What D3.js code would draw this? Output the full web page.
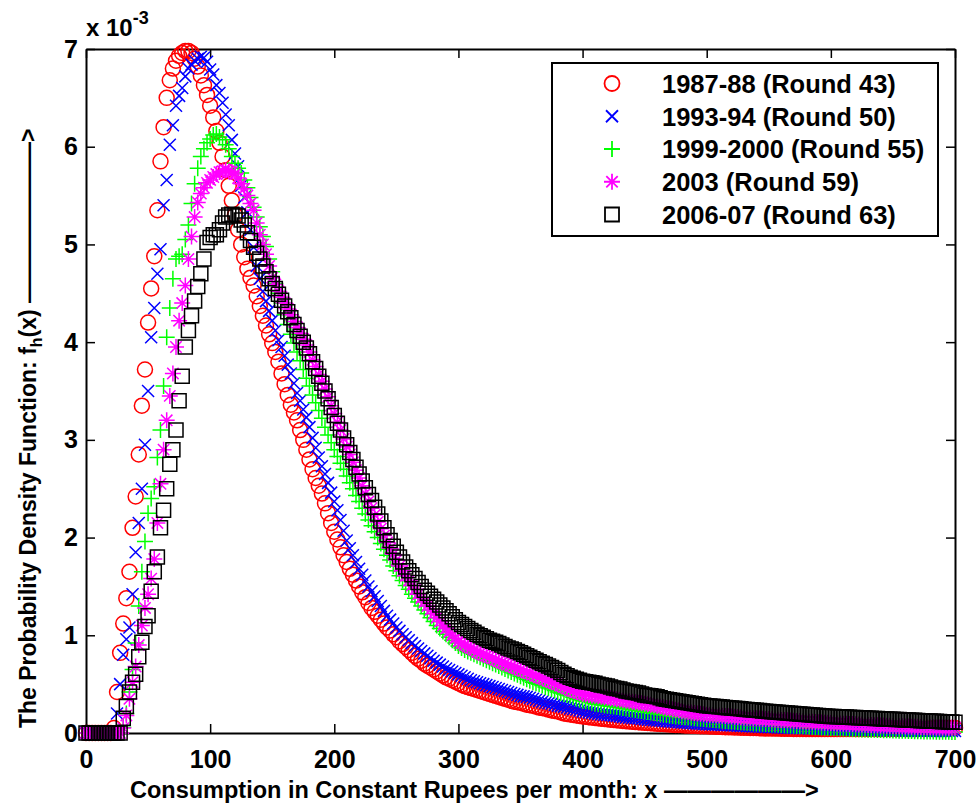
<!DOCTYPE html>
<html><head><meta charset="utf-8">
<script src="https://cdn.jsdelivr.net/npm/d3@7"></script>
<style>
body{margin:0;background:#fff}
svg{display:block}
text{font-family:"Liberation Sans",Arial,Helvetica,sans-serif;font-weight:bold;fill:#000}
</style></head><body>
<svg id="c" width="979" height="807"></svg>
<script>
// ---- data (density values in units of 1e-3), x in constant rupees ----
const xValues = [
0,2.5,5,7.5,10,12.5,15,17.5,20,22.5,25,27.5,30,32.5,35,37.5,40,42.5,45,47.5,
50,52.5,55,57.5,60,62.5,65,67.5,70,72.5,75,77.5,80,82.5,85,87.5,90,92.5,95,97.5,
100,102.5,105,107.5,110,112.5,115,117.5,120,122.5,125,127.5,130,132.5,135,137.5,140,142.5,145,147.5,
150,152.5,155,157.5,160,162.5,165,167.5,170,172.5,175,177.5,180,182.5,185,187.5,190,192.5,195,197.5,
200,202.5,205,207.5,210,212.5,215,217.5,220,222.5,225,227.5,230,232.5,235,237.5,240,242.5,245,247.5,
250,252.5,255,257.5,260,262.5,265,267.5,270,272.5,275,277.5,280,282.5,285,287.5,290,292.5,295,297.5,
300,302.5,305,307.5,310,312.5,315,317.5,320,322.5,325,327.5,330,332.5,335,337.5,340,342.5,345,347.5,
350,352.5,355,357.5,360,362.5,365,367.5,370,372.5,375,377.5,380,382.5,385,387.5,390,392.5,395,397.5,
400,402.5,405,407.5,410,412.5,415,417.5,420,422.5,425,427.5,430,432.5,435,437.5,440,442.5,445,447.5,
450,452.5,455,457.5,460,462.5,465,467.5,470,472.5,475,477.5,480,482.5,485,487.5,490,492.5,495,497.5,
500,502.5,505,507.5,510,512.5,515,517.5,520,522.5,525,527.5,530,532.5,535,537.5,540,542.5,545,547.5,
550,552.5,555,557.5,560,562.5,565,567.5,570,572.5,575,577.5,580,582.5,585,587.5,590,592.5,595,597.5,
600,602.5,605,607.5,610,612.5,615,617.5,620,622.5,625,627.5,630,632.5,635,637.5,640,642.5,645,647.5,
650,652.5,655,657.5,660,662.5,665,667.5,670,672.5,675,677.5,680,682.5,685,687.5,690,692.5,695,697.5,
700];

const round43 = [
0,0,0,0,0,0,0,0,0,0.05,0.42,0.82,1.12,1.38,1.65,2.1,2.42,2.85,3.35,3.72,4.2,4.55,4.88,5.35,5.85,6.2,6.5,6.68,6.8,6.88,6.93,6.96,6.98,6.98,6.96,6.9,6.82,6.73,6.63,6.53,6.42,6.3,6.16,6.04,5.9,5.76,5.6,5.45,5.3,5.15,5.0,4.87,4.75,4.66,4.58,4.47,4.37,4.27,4.17,4.08,3.99,3.9,3.8,3.68,3.57,3.46,3.36,3.28,3.2,3.1,3.0,2.9,2.8,2.7,2.61,2.53,2.45,2.35,2.25,2.15,2.06,
1.98,1.9,1.82,1.75,1.68,1.62,1.56,1.5,1.44,1.39,1.33,1.28,1.24,1.2,1.16,1.12,1.08,1.05,1.01,0.98,0.94,0.91,0.88,0.85,0.82,0.79,0.76,0.74,0.71,0.69,0.67,0.65,0.63,0.61,0.59,0.57,0.555,0.54,0.525,0.51,
0.495,0.48,0.47,0.46,0.45,0.44,0.43,0.42,0.41,0.4,0.39,0.38,0.37,0.36,0.35,0.34,0.33,0.32,0.315,0.31,0.3,0.29,0.285,0.28,0.27,0.26,0.255,0.25,0.24,0.23,0.225,0.22,0.21,0.2,0.195,0.19,0.185,0.18,0.175,0.17,
0.166,0.162,0.158,0.154,0.15,0.146,0.143,0.14,0.136,0.133,0.13,0.127,0.124,0.121,0.118,0.115,0.112,0.11,0.107,0.105,0.102,0.1,0.097,0.095,0.093,0.091,0.089,0.087,0.085,0.083,0.081,0.079,0.078,0.076,0.074,0.073,0.072,0.07,0.069,0.068,
0.067,0.066,0.064,0.063,0.061,0.06,0.059,0.058,0.057,0.056,0.055,0.054,0.053,0.052,0.051,0.05,0.049,0.048,0.047,0.046,0.046,0.045,0.045,0.044,0.044,0.043,0.043,0.042,0.042,0.041,0.041,0.04,0.04,0.04,0.04,0.04,0.04,0.04,0.04,0.04,
0.04,0.04,0.04,0.04,0.04,0.04,0.04,0.04,0.04,0.04,0.04,0.04,0.04,0.04,0.04,0.04,0.04,0.04,0.04,0.04,0.04,0.04,0.04,0.04,0.04,0.04,0.04,0.04,0.041,0.042,0.043,0.044,0.045,0.046,0.047,0.048,0.049,0.05,0.051,0.052];

const round50 = [
0,0,0,0,0,0,0,0,0,0.02,0.2,0.5,0.8,0.96,1.08,1.42,1.85,2.15,2.5,2.95,3.5,4.05,4.35,4.7,4.95,5.4,5.66,6.02,6.22,6.42,6.52,6.6,6.72,6.8,6.84,6.88,6.9,6.92,6.91,6.87,6.79,6.74,6.63,6.55,6.45,6.33,6.22,6.07,5.93,5.8,5.6,5.48,5.33,5.15,4.97,4.78,4.65,4.52,4.42,4.32,4.22,4.12,4.02,3.95,3.86,3.77,3.68,3.58,3.48,3.4,3.31,3.23,3.13,3.02,2.92,2.82,2.73,2.65,2.56,2.46,2.37,
2.28,2.18,2.07,1.97,1.89,1.82,1.75,1.68,1.62,1.56,1.5,1.45,1.4,1.35,1.3,1.25,1.2,1.16,1.12,1.08,1.045,1.01,0.98,0.95,0.92,0.89,0.865,0.84,0.815,0.79,0.765,0.74,0.72,0.7,0.68,0.66,0.645,0.63,0.615,0.6,
0.585,0.57,0.555,0.54,0.53,0.52,0.51,0.5,0.49,0.48,0.47,0.46,0.45,0.44,0.43,0.42,0.41,0.4,0.39,0.38,0.375,0.37,0.36,0.35,0.34,0.33,0.32,0.31,0.305,0.3,0.29,0.28,0.275,0.27,0.26,0.25,0.245,0.24,0.23,0.22,
0.215,0.21,0.205,0.2,0.195,0.19,0.187,0.184,0.181,0.178,0.175,0.17,0.165,0.16,0.157,0.154,0.151,0.148,0.144,0.14,0.137,0.134,0.131,0.128,0.125,0.122,0.12,0.118,0.115,0.112,0.11,0.108,0.105,0.102,0.1,0.098,0.096,0.094,0.092,0.09,
0.088,0.087,0.085,0.084,0.082,0.081,0.079,0.078,0.076,0.075,0.073,0.072,0.07,0.069,0.067,0.066,0.064,0.063,0.061,0.06,0.059,0.058,0.057,0.056,0.055,0.054,0.053,0.052,0.051,0.05,0.049,0.048,0.047,0.046,0.045,0.044,0.043,0.042,0.041,0.04,
0.039,0.038,0.037,0.036,0.035,0.034,0.033,0.032,0.0315,0.031,0.0305,0.03,0.0295,0.029,0.0285,0.028,0.0275,0.027,0.0265,0.026,0.0255,0.025,0.0245,0.024,0.0235,0.023,0.0225,0.022,0.0215,0.021,0.021,0.0205,0.02,0.02,0.02,0.02,0.02,0.02,0.02,0.02];

const round55 = [
0,0,0,0,0,0,0,0,0,0,0,0,0.06,0.2,0.42,0.65,0.92,1.3,1.65,1.96,2.25,2.4,2.52,2.82,3.1,3.55,4.05,4.35,4.65,4.85,4.88,4.9,5.05,5.2,5.42,5.62,5.78,5.9,5.98,6.04,6.08,6.12,6.13,6.1,6.07,6.02,5.98,5.9,5.83,5.78,5.73,5.66,5.58,5.48,5.38,5.28,5.18,5.08,4.98,4.85,4.72,4.6,4.5,4.4,4.28,4.18,4.08,3.99,3.9,3.81,3.72,3.63,3.55,3.46,3.38,3.3,3.22,3.13,3.05,2.97,2.9,
2.83,2.76,2.7,2.63,2.56,2.5,2.43,2.37,2.3,2.24,2.18,2.12,2.06,2.0,1.94,1.88,1.82,1.77,1.71,1.66,1.61,1.56,1.51,1.47,1.42,1.38,1.34,1.3,1.26,1.22,1.18,1.14,1.1,1.07,1.04,1.01,0.98,0.95,0.92,0.89,
0.87,0.85,0.835,0.82,0.805,0.79,0.775,0.76,0.745,0.73,0.715,0.7,0.685,0.67,0.655,0.64,0.625,0.61,0.595,0.58,0.565,0.55,0.535,0.52,0.51,0.5,0.485,0.47,0.46,0.45,0.435,0.42,0.41,0.4,0.39,0.38,0.365,0.35,0.34,0.33,
0.325,0.32,0.31,0.3,0.295,0.29,0.285,0.28,0.275,0.27,0.265,0.26,0.255,0.25,0.245,0.24,0.235,0.23,0.225,0.22,0.215,0.21,0.205,0.2,0.195,0.19,0.185,0.18,0.175,0.17,0.168,0.165,0.162,0.158,0.155,0.151,0.148,0.145,0.142,0.14,
0.137,0.134,0.131,0.128,0.125,0.122,0.12,0.117,0.115,0.112,0.11,0.107,0.105,0.102,0.1,0.098,0.096,0.094,0.092,0.09,0.088,0.086,0.084,0.082,0.08,0.078,0.076,0.074,0.072,0.07,0.068,0.066,0.064,0.062,0.06,0.058,0.056,0.055,0.053,0.051,
0.05,0.048,0.047,0.045,0.044,0.042,0.041,0.039,0.038,0.036,0.035,0.034,0.033,0.032,0.031,0.03,0.029,0.028,0.027,0.026,0.025,0.024,0.023,0.022,0.021,0.02,0.019,0.018,0.017,0.016,0.0155,0.015,0.0145,0.014,0.0135,0.013,0.0125,0.012,0.0115,0.011];

const round59 = [
0,0,0,0,0,0,0,0,0,0,0,0,0.05,0.18,0.35,0.52,0.68,0.9,1.1,1.28,1.42,1.58,1.78,2.15,2.55,2.9,3.2,3.45,3.68,3.95,4.22,4.4,4.58,4.85,5.08,5.28,5.43,5.52,5.58,5.63,5.66,5.69,5.72,5.74,5.75,5.76,5.75,5.74,5.72,5.68,5.62,5.57,5.5,5.42,5.35,5.22,5.1,5.0,4.9,4.78,4.66,4.59,4.52,4.46,4.4,4.34,4.28,4.21,4.15,4.09,4.03,3.97,3.9,3.82,3.75,3.67,3.6,3.52,3.44,3.35,3.27,
3.18,3.1,3.01,2.93,2.85,2.77,2.69,2.61,2.53,2.45,2.37,2.3,2.23,2.16,2.09,2.02,1.95,1.89,1.83,1.77,1.71,1.66,1.61,1.56,1.51,1.47,1.42,1.38,1.34,1.3,1.26,1.22,1.18,1.14,1.1,1.07,1.03,1.0,0.97,0.94,
0.92,0.9,0.885,0.87,0.85,0.83,0.815,0.8,0.79,0.78,0.765,0.75,0.735,0.72,0.71,0.7,0.685,0.67,0.66,0.65,0.635,0.62,0.61,0.6,0.585,0.57,0.56,0.55,0.535,0.52,0.51,0.5,0.485,0.47,0.455,0.44,0.43,0.42,0.41,0.4,
0.395,0.39,0.385,0.38,0.375,0.37,0.365,0.36,0.355,0.35,0.345,0.34,0.335,0.33,0.325,0.32,0.315,0.31,0.305,0.3,0.295,0.29,0.283,0.276,0.27,0.263,0.256,0.25,0.244,0.238,0.232,0.226,0.22,0.215,0.21,0.205,0.2,0.196,0.192,0.188,
0.186,0.184,0.181,0.179,0.176,0.174,0.171,0.169,0.166,0.164,0.161,0.159,0.157,0.155,0.152,0.15,0.148,0.146,0.144,0.142,0.14,0.138,0.136,0.134,0.132,0.13,0.128,0.126,0.124,0.122,0.12,0.118,0.116,0.114,0.112,0.11,0.108,0.106,0.104,0.102,
0.1,0.098,0.097,0.095,0.094,0.092,0.091,0.089,0.088,0.086,0.085,0.083,0.082,0.08,0.079,0.077,0.076,0.074,0.073,0.071,0.07,0.069,0.068,0.067,0.066,0.065,0.064,0.063,0.062,0.061,0.06,0.059,0.058,0.057,0.057,0.056,0.056,0.055,0.055,0.054];

const round63 = [
0,0,0,0,0,0,0,0,0,0,0,0,0.15,0.27,0.42,0.52,0.6,0.78,0.93,1.09,1.2,1.45,1.65,1.8,2.1,2.28,2.5,2.75,2.9,3.1,3.4,3.65,3.95,4.12,4.27,4.42,4.57,4.7,4.85,5.02,5.07,5.1,5.1,5.15,5.22,5.28,5.3,5.31,5.3,5.29,5.25,5.2,5.12,5.04,4.97,4.91,4.85,4.78,4.72,4.65,4.6,4.55,4.49,4.43,4.37,4.31,4.25,4.18,4.12,4.06,4.0,3.94,3.88,3.8,3.73,3.65,3.58,3.5,3.42,3.33,3.25,
3.17,3.1,3.02,2.95,2.87,2.8,2.72,2.65,2.58,2.51,2.44,2.38,2.31,2.24,2.17,2.1,2.03,1.97,1.91,1.85,1.8,1.75,1.7,1.66,1.62,1.58,1.54,1.5,1.46,1.43,1.4,1.37,1.34,1.31,1.28,1.25,1.22,1.19,1.16,1.13,
1.11,1.09,1.07,1.05,1.03,1.01,0.995,0.98,0.965,0.95,0.94,0.93,0.915,0.9,0.885,0.87,0.86,0.85,0.835,0.82,0.805,0.79,0.775,0.76,0.745,0.73,0.715,0.7,0.685,0.67,0.655,0.64,0.62,0.6,0.585,0.57,0.56,0.55,0.54,0.53,
0.525,0.52,0.515,0.51,0.5,0.49,0.485,0.48,0.47,0.46,0.455,0.45,0.44,0.43,0.425,0.42,0.415,0.41,0.4,0.39,0.385,0.38,0.375,0.37,0.36,0.35,0.345,0.34,0.335,0.33,0.325,0.32,0.315,0.31,0.305,0.3,0.295,0.29,0.285,0.28,
0.277,0.274,0.271,0.268,0.265,0.262,0.259,0.256,0.253,0.25,0.247,0.244,0.241,0.238,0.235,0.232,0.229,0.226,0.223,0.22,0.2175,0.215,0.2125,0.21,0.2075,0.205,0.2025,0.2,0.1975,0.195,0.1925,0.19,0.1875,0.185,0.1825,0.18,0.1775,0.175,0.1725,0.17,
0.1685,0.167,0.1655,0.164,0.1625,0.161,0.1595,0.158,0.1565,0.155,0.1535,0.152,0.1505,0.149,0.1475,0.146,0.1445,0.143,0.1415,0.14,0.1385,0.137,0.1355,0.134,0.1325,0.131,0.1295,0.128,0.1265,0.125,0.1235,0.122,0.1205,0.119,0.1175,0.116,0.1145,0.113,0.1115,0.11];

const seriesNames = ["1987-88 (Round 43)","1993-94 (Round 50)","1999-2000 (Round 55)","2003 (Round 59)","2006-07 (Round 63)"];
const seriesValues = [round43, round50, round55, round59, round63];
const seriesColors = ["#ff0000","#0000ff","#00ff00","#ff00ff","#000000"];
const seriesMarkers = ["circle","x","plus","asterisk","square"];
const xTicks = [0,100,200,300,400,500,600,700];
const yTicks = [0,1,2,3,4,5,6,7];

// ---- drawing ----
const svg = d3.select("#c");
const x = d3.scaleLinear().domain([0,700]).range([86,955]);
const y = d3.scaleLinear().domain([0,7]).range([733,49]);
const FONT = '"Liberation Sans",Arial,Helvetica,sans-serif';

function styleAxis(g){
  g.select(".domain").attr("stroke","#000").attr("stroke-width",2);
  g.selectAll(".tick line").attr("stroke","#000").attr("stroke-width",1.5);
  g.selectAll(".tick text").attr("font-family",FONT).attr("font-weight","bold").attr("font-size",25).attr("fill","#000");
}
svg.append("g").attr("transform","translate(0,733)")
  .call(d3.axisBottom(x).tickValues(xTicks).tickFormat(d3.format("d")).tickSizeInner(-9).tickSizeOuter(0).tickPadding(17)).call(styleAxis);
svg.append("g").attr("transform","translate(0,49)")
  .call(d3.axisTop(x).tickValues(xTicks).tickSizeInner(-9).tickSizeOuter(0).tickFormat("")).call(styleAxis);
svg.append("g").attr("transform","translate(86,0)")
  .call(d3.axisLeft(y).tickValues(yTicks).tickFormat(d3.format("d")).tickSizeInner(-9).tickSizeOuter(0).tickPadding(8)).call(styleAxis);
svg.append("g").attr("transform","translate(955,0)")
  .call(d3.axisRight(y).tickValues(yTicks).tickSizeInner(-9).tickSizeOuter(0).tickFormat("")).call(styleAxis);

function markerPath(type){
  switch(type){
    case "circle": { const r=7.5; return `M${r},0A${r},${r} 0 1,1 ${-r},0A${r},${r} 0 1,1 ${r},0Z`; }
    case "x": { const s=6; return `M${-s},${-s}L${s},${s}M${-s},${s}L${s},${-s}`; }
    case "plus": { const s=8; return `M${-s},0L${s},0M0,${-s}L0,${s}`; }
    case "asterisk": { const s=8, d=5.7; return `M${-s},0L${s},0M0,${-s}L0,${s}M${-d},${-d}L${d},${d}M${-d},${d}L${d},${-d}`; }
    case "square": { const s=7; return `M${-s},${-s}H${s}V${s}H${-s}Z`; }
  }
}

const marks = svg.append("g");
seriesValues.forEach((vals,i)=>{
  const pts = d3.zip(xValues, vals);
  marks.append("g").selectAll("path").data(pts).join("path")
    .attr("d", markerPath(seriesMarkers[i]))
    .attr("transform", d=>`translate(${x(d[0])},${y(d[1])})`)
    .attr("fill","none").attr("stroke",seriesColors[i]).attr("stroke-width",1.5);
});

// exponent label
const ex = svg.append("text").attr("x",86).attr("y",36).attr("font-size",24);
ex.append("tspan").text("x 10");
ex.append("tspan").attr("font-size",18).attr("dy",-12).text("-3");

// axis labels
svg.append("text").attr("x",130).attr("y",798).attr("font-size",23.5)
  .text("Consumption in Constant Rupees per month: x \u2014\u2014\u2014\u2014\u2014\u2014>");
const yl = svg.append("text").attr("transform","translate(36,728) rotate(-90)").attr("font-size",23);
yl.append("tspan").text("The Probability Density Function: f");
yl.append("tspan").attr("font-size",16).attr("dy",6).text("h");
yl.append("tspan").attr("dy",-6).text("(x) \u2014\u2014\u2014\u2014\u2014\u2014\u2014>");

// legend
const lg = svg.append("g");
lg.append("rect").attr("x",552).attr("y",63).attr("width",386).attr("height",173)
  .attr("fill","#fff").attr("stroke","#000").attr("stroke-width",2);
const rowY = d3.scalePoint().domain(seriesNames).range([83.5,214.5]);
seriesNames.forEach((name,i)=>{
  lg.append("path").attr("d",markerPath(seriesMarkers[i]))
    .attr("transform",`translate(612,${rowY(name)})`)
    .attr("fill","none").attr("stroke",seriesColors[i]).attr("stroke-width",1.8);
  lg.append("text").attr("x",662).attr("y",rowY(name)+9.3).attr("font-size",25.5).text(name);
});
</script></body></html>
